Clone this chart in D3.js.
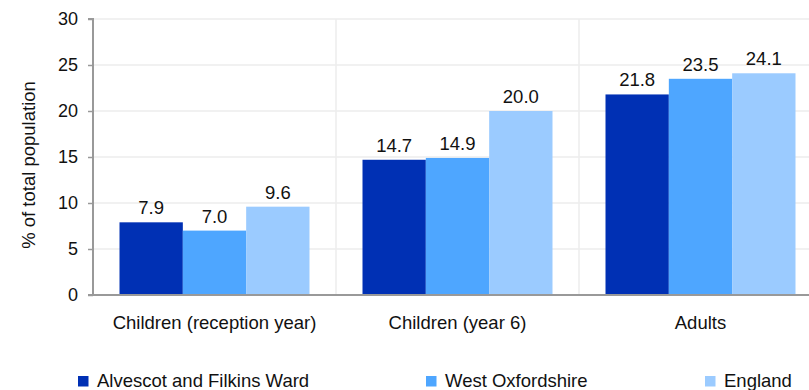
<!DOCTYPE html>
<html>
<head>
<meta charset="utf-8">
<script src="https://cdn.jsdelivr.net/npm/d3@7"></script>
<style>
  body { margin: 0; background: #fff; }
  svg { display: block; font-family: "Liberation Sans", Arial, sans-serif; }
</style>
</head>
<body>
<svg id="chart" width="809" height="390"></svg>
<script>
// Chart data
const categories = ["Children (reception year)", "Children (year 6)", "Adults"];
const seriesNames = ["Alvescot and Filkins Ward", "West Oxfordshire", "England"];
const ward = [7.9, 14.7, 21.8];
const district = [7.0, 14.9, 23.5];
const england = [9.6, 20.0, 24.1];
const yTicks = [0, 5, 10, 15, 20, 25, 30];
const colors = ["#0030b4", "#4ea6ff", "#9bcbff"];

const seriesValues = [ward, district, england];
const fontSize = 18.5;

const svg = d3.select("#chart");
const margin = { left: 93, top: 19, bottom: 295, right: 822 };

const x = d3.scaleBand().domain(categories).range([margin.left, margin.right]).paddingInner(0).paddingOuter(0);
const inner = d3.scaleBand().domain(d3.range(seriesNames.length)).range([26.5, x.bandwidth() - 26.5]);
const y = d3.scaleLinear().domain([0, 30]).range([margin.bottom, margin.top]);

// Horizontal gridlines
svg.append("g").selectAll("line").data(yTicks.filter(d => d > 0)).join("line")
  .attr("x1", margin.left).attr("x2", 809)
  .attr("y1", d => y(d)).attr("y2", d => y(d))
  .attr("stroke", "#ececec").attr("stroke-width", 1.5);

// Vertical separators between categories
svg.append("g").selectAll("line").data(categories.slice(1)).join("line")
  .attr("x1", d => x(d)).attr("x2", d => x(d))
  .attr("y1", margin.top).attr("y2", margin.bottom)
  .attr("stroke", "#ececec").attr("stroke-width", 1.5);

// Bars
const groups = svg.append("g").selectAll("g").data(categories).join("g")
  .attr("transform", d => `translate(${x(d)},0)`);

groups.selectAll("rect").data((c, ci) => seriesValues.map((s, si) => ({ si, v: s[ci] }))).join("rect")
  .attr("x", d => inner(d.si))
  .attr("width", inner.bandwidth())
  .attr("y", d => y(d.v))
  .attr("height", d => y(0) - y(d.v))
  .attr("fill", d => colors[d.si]);

// Value labels
groups.selectAll("text").data((c, ci) => seriesValues.map((s, si) => ({ si, v: s[ci] }))).join("text")
  .attr("x", d => inner(d.si) + inner.bandwidth() / 2)
  .attr("y", d => y(d.v) - 8)
  .attr("text-anchor", "middle")
  .attr("font-size", fontSize)
  .attr("fill", "#111")
  .text(d => d.v.toFixed(1));

// Y axis
const yAxis = d3.axisLeft(y).tickValues(yTicks).tickSize(5).tickPadding(10);
const gy = svg.append("g").attr("transform", `translate(${margin.left},0)`).call(yAxis);
gy.select(".domain").attr("stroke", "#999").attr("stroke-width", 2).attr("d", `M-5,${margin.top}H0V${margin.bottom}`);
gy.selectAll(".tick line").attr("stroke", "#999").attr("stroke-width", 1.5);
gy.selectAll(".tick text").attr("font-size", 18).attr("fill", "#111").attr("font-family", "Liberation Sans, Arial, sans-serif");

// X axis line
svg.append("line")
  .attr("x1", margin.left - 5).attr("x2", 809)
  .attr("y1", y(0)).attr("y2", y(0))
  .attr("stroke", "#999").attr("stroke-width", 2);

// Category labels
svg.append("g").selectAll("text").data(categories).join("text")
  .attr("x", d => x(d) + x.bandwidth() / 2)
  .attr("y", 329)
  .attr("text-anchor", "middle")
  .attr("font-size", fontSize)
  .attr("fill", "#111")
  .text(d => d);

// Y axis title
svg.append("text")
  .attr("transform", "translate(35,165) rotate(-90)")
  .attr("text-anchor", "middle")
  .attr("font-size", fontSize)
  .attr("fill", "#111")
  .text("% of total population");

// Legend
const legendX = [78, 426, 705];
const legend = svg.append("g").selectAll("g").data(seriesNames).join("g")
  .attr("transform", (d, i) => `translate(${legendX[i]},376)`);
legend.append("rect").attr("width", 10.5).attr("height", 10.5).attr("fill", (d, i) => colors[i]);
legend.append("text").attr("x", 19).attr("y", 10.5).attr("font-size", fontSize).attr("fill", "#111").text(d => d);
</script>
</body>
</html>
